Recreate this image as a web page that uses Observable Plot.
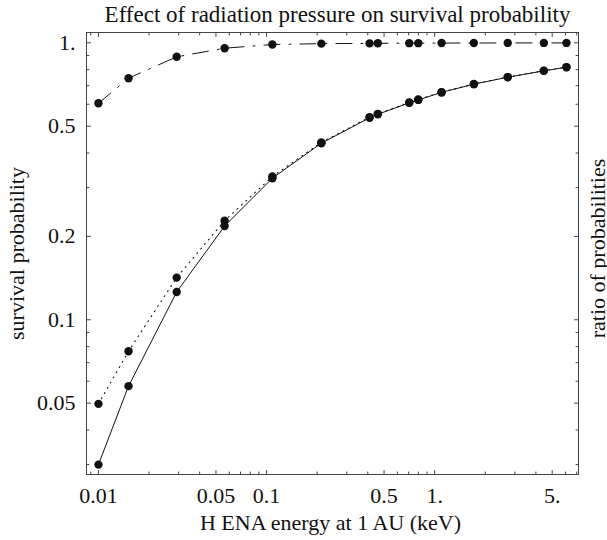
<!DOCTYPE html>
<html>
<head>
<meta charset="utf-8">
<script src="https://cdn.jsdelivr.net/npm/d3@7"></script>
<script src="https://cdn.jsdelivr.net/npm/@observablehq/plot@0.6"></script>
<style>
  html, body { margin: 0; padding: 0; background: #fff; }
  svg { display: block; }
  svg text { font-family: 'Liberation Serif', 'Times New Roman', serif; }
</style>
</head>
<body>
<div id="chart"></div>
<script>
// ---- data ----
const energies = [0.01, 0.0151, 0.0292, 0.0563, 0.1083, 0.2118, 0.410, 0.459, 0.706, 0.799, 1.099, 1.71, 2.72, 4.46, 6.08];
const survivalSolid  = [0.030, 0.0576, 0.126, 0.218, 0.3245, 0.434, 0.536, 0.552, 0.607, 0.622, 0.662, 0.709, 0.751, 0.792, 0.816];
const survivalDotted = [0.0497, 0.077, 0.142, 0.228, 0.329, 0.437, 0.539, 0.554, 0.609, 0.624, 0.663, 0.710, 0.752, 0.793, 0.817];
const ratioValues    = [0.605, 0.745, 0.89, 0.956, 0.986, 0.993, 0.995, 0.996, 0.997, 0.997, 0.998, 0.998, 0.999, 0.999, 0.999];

const xTickValues = [0.01, 0.05, 0.1, 0.5, 1, 5];
const xTickLabels = ["0.01", "0.05", "0.1", "0.5", "1.", "5."];
const yTickValues = [0.05, 0.1, 0.2, 0.5, 1];
const yTickLabels = ["0.05", "0.1", "0.2", "0.5", "1."];

const titleText = "Effect of radiation pressure on survival probability";
const xLabel = "H ENA energy at 1 AU (keV)";
const yLabel = "survival probability";
const y2Label = "ratio of probabilities";

const xDomain = [0.00849, 7.17];
const yDomain = [0.02763, 1.0894];

// ---- build tables ----
const solidRows  = energies.map((e, i) => ({energy: e, value: survivalSolid[i]}));
const dottedRows = energies.map((e, i) => ({energy: e, value: survivalDotted[i]}));
const ratioRows  = energies.map((e, i) => ({energy: e, value: ratioValues[i]}));
const xTickRows  = xTickValues.map((v, i) => ({v, label: xTickLabels[i]}));
const yTickRows  = yTickValues.map((v, i) => ({v, label: yTickLabels[i]}));

const xMinor = d3.scaleLog().domain(xDomain).ticks().filter(v => !xTickValues.some(t => Math.abs(t - v) / t < 1e-9));
const yMinor = d3.scaleLog().domain(yDomain).ticks().filter(v => !yTickValues.some(t => Math.abs(t - v) / t < 1e-9));

const tickShape = {draw(context, l) { context.moveTo(0, 0); context.lineTo(0, -l); }};
const ink = "#111";
const frameInk = "#444";
const font = "'Liberation Serif', 'Times New Roman', serif";

function frameTicks(values, len) {
  return [
    Plot.vector(values, {x: d => d, frameAnchor: "bottom", rotate: 0, length: len, anchor: "start", shape: tickShape, stroke: frameInk, strokeWidth: 1}),
    Plot.vector(values, {x: d => d, frameAnchor: "top", rotate: 180, length: len, anchor: "start", shape: tickShape, stroke: frameInk, strokeWidth: 1})
  ];
}
function frameTicksY(values, len) {
  return [
    Plot.vector(values, {y: d => d, frameAnchor: "left", rotate: 90, length: len, anchor: "start", shape: tickShape, stroke: frameInk, strokeWidth: 1}),
    Plot.vector(values, {y: d => d, frameAnchor: "right", rotate: -90, length: len, anchor: "start", shape: tickShape, stroke: frameInk, strokeWidth: 1})
  ];
}

const chart = Plot.plot({
  width: 607,
  height: 540,
  marginLeft: 86,
  marginRight: 29,
  marginTop: 32,
  marginBottom: 66,
  style: {fontFamily: font, fontSize: "22px", color: ink, background: "#fff"},
  x: {type: "log", domain: xDomain, axis: null},
  y: {type: "log", domain: yDomain, axis: null},
  marks: [
    Plot.frame({stroke: frameInk, strokeWidth: 1}),
    ...frameTicks(xTickValues, 4),
    ...frameTicks(xMinor, 2.5),
    ...frameTicksY(yTickValues, 4),
    ...frameTicksY(yMinor, 2.5),
    // tick labels
    Plot.text(xTickRows, {x: "v", text: "label", frameAnchor: "bottom", dy: 13, lineAnchor: "top", textAnchor: "middle", fontSize: 22, fontFamily: font, fill: ink}),
    Plot.text(yTickRows, {y: "v", text: "label", frameAnchor: "left", dx: -11, lineAnchor: "middle", textAnchor: "end", fontSize: 22, fontFamily: font, fill: ink}),
    // series
    Plot.line(solidRows, {x: "energy", y: "value", stroke: ink, strokeWidth: 1}),
    Plot.line(dottedRows, {x: "energy", y: "value", stroke: ink, strokeWidth: 1.1, strokeDasharray: "1,5"}),
    Plot.line(ratioRows, {x: "energy", y: "value", stroke: ink, strokeWidth: 1, strokeDasharray: "16,9,2,9"}),
    Plot.dot(dottedRows, {x: "energy", y: "value", r: 4.2, fill: ink, stroke: "none"}),
    Plot.dot(solidRows, {x: "energy", y: "value", r: 4.2, fill: ink, stroke: "none"}),
    Plot.dot(ratioRows, {x: "energy", y: "value", r: 4.2, fill: ink, stroke: "none"}),
    // texts
    Plot.text([titleText], {text: d => d, frameAnchor: "top", dy: -18, dx: 5, fontSize: 23, fontFamily: font, fill: ink, lineAnchor: "middle", textAnchor: "middle"}),
    Plot.text([xLabel], {text: d => d, frameAnchor: "bottom", dy: 48, dx: -2, fontSize: 22, fontFamily: font, fill: ink, lineAnchor: "middle", textAnchor: "middle"}),
    Plot.text([yLabel], {text: d => d, frameAnchor: "left", dx: -70, rotate: -90, fontSize: 22, fontFamily: font, fill: ink, lineAnchor: "middle", textAnchor: "middle"}),
    Plot.text([y2Label], {text: d => d, frameAnchor: "right", dx: 19, dy: -5, rotate: -90, fontSize: 22, fontFamily: font, fill: ink, lineAnchor: "middle", textAnchor: "middle"})
  ]
});
document.getElementById("chart").appendChild(chart);
</script>
</body>
</html>
